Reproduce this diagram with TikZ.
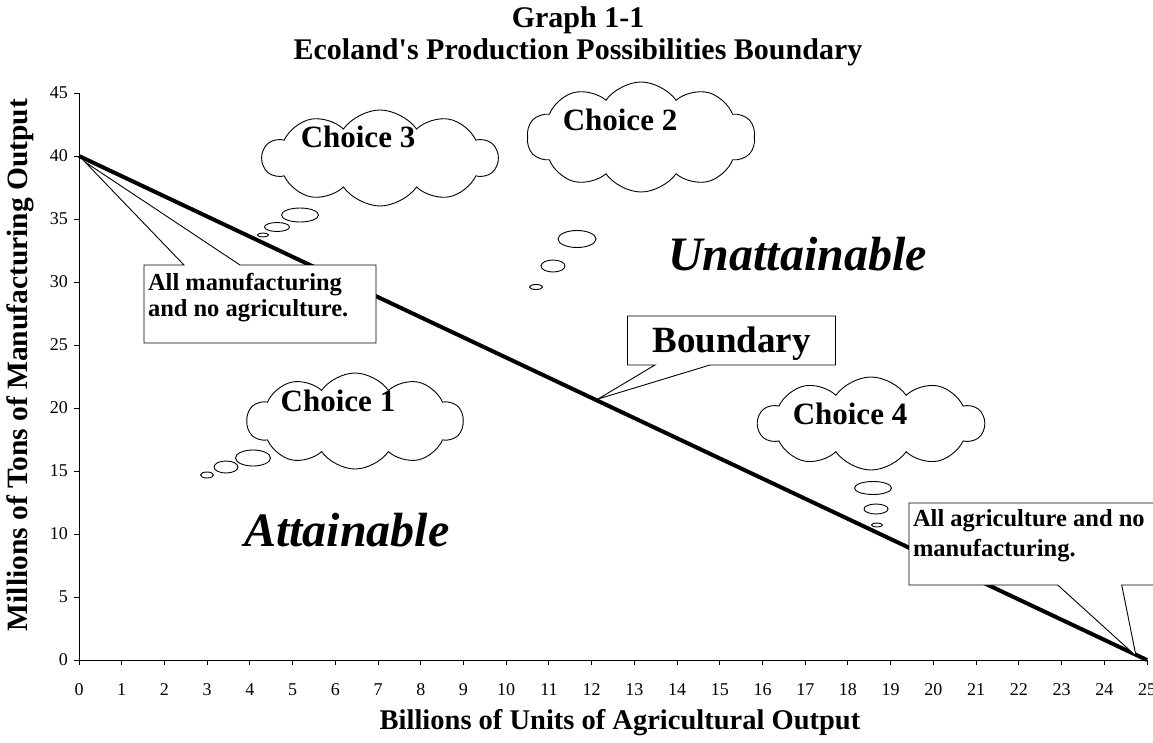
\documentclass[tikz,border=0pt]{standalone}
\usepackage{fontspec}
\setmainfont{Liberation Serif}[Ligatures=TeXOff]
\usetikzlibrary{shapes.symbols,shapes.callouts,shapes.geometric}
\begin{document}
\begin{tikzpicture}[x=1pt,y=-1pt,
  axisline/.style={line width=1pt},
  tickmark/.style={line width=1pt},
  ticklabel/.style={font=\fontsize{18}{20}\selectfont, inner sep=0pt},
  axlabel/.style={font=\fontsize{28.5}{30}\selectfont\bfseries, inner sep=0pt},
  titlestyle/.style={font=\fontsize{30}{34}\selectfont\bfseries, inner sep=0pt, anchor=base},
  bigword/.style={font=\fontsize{48}{50}\selectfont\bfseries\itshape, inner sep=0pt, anchor=base west},
  thought/.style={cloud, cloud puffs=10, cloud puff arc=110, draw, line width=0.9pt, fill=white, inner sep=0pt},
  bubble/.style={ellipse, draw, line width=0.9pt, fill=white, inner sep=0pt},
  choicetext/.style={font=\fontsize{31}{34}\selectfont\bfseries, inner sep=0pt},
  callbox/.style={rectangle callout, draw, line width=0.9pt, fill=white, inner xsep=4pt, inner ysep=0pt},
]
\useasboundingbox (0,0) rectangle (1153,742);
\clip (0,0) rectangle (1153,742);
\fill[white] (0,0) rectangle (1153,742);

% titles
\node[titlestyle] (title1) at (578,27) {Graph 1-1};
\node[titlestyle] (title2) at (578,59) {Ecoland's Production Possibilities Boundary};

% axes
\coordinate (O) at (79,660);
\coordinate (Ytop) at (79,93);
\coordinate (Xend) at (1147,660);
\draw[axisline] (Ytop) -- (O) -- (Xend);
\foreach \v in {0,5,...,45} {
  \pgfmathsetmacro\yy{660-\v*12.6}
  \draw[tickmark] (74,\yy) -- (79,\yy);
  \node[ticklabel, anchor=east] (yl\v) at (68,\yy) {\v};
}
\foreach \i in {0,...,25} {
  \pgfmathsetmacro\xx{79+\i*42.72}
  \draw[tickmark] (\xx,660) -- (\xx,665);
  \node[ticklabel, anchor=base] (xl\i) at (\xx,695) {\i};
}
\node[axlabel, anchor=base] (xlabel) at (620,729) {Billions of Units of Agricultural Output};
\node[axlabel, rotate=90, font=\fontsize{29.5}{31}\selectfont\bfseries] (ylabel) at (20,365) {Millions of Tons of Manufacturing Output};

% boundary line
\coordinate (A) at (79,156);
\coordinate (B) at (1147,660);
\draw[line width=4pt] (A) -- (B);

% region words
\node[bigword] (unatt) at (668,270) {Unattainable};
\node[bigword] (att) at (244,546) {Attainable};

% thought clouds
\node[thought, minimum width=235pt, minimum height=96pt] (c3) at (380,158) {};
\node[bubble, minimum width=37pt, minimum height=14pt] (c3a) at (300,215) {};
\node[bubble, minimum width=25pt, minimum height=9pt] (c3b) at (277,227) {};
\node[bubble, minimum width=11pt, minimum height=4pt] (c3c) at (263,235) {};
\node[choicetext] (t3) at (358,137) {Choice 3};

\node[thought, minimum width=228pt, minimum height=110pt] (c2) at (641,137) {};
\node[bubble, minimum width=38pt, minimum height=17pt] (c2a) at (577,239) {};
\node[bubble, minimum width=24pt, minimum height=12pt] (c2b) at (553,266) {};
\node[bubble, minimum width=13pt, minimum height=5pt] (c2c) at (536,287) {};
\node[choicetext] (t2) at (620,120) {Choice 2};

\node[thought, minimum width=216pt, minimum height=96pt] (c1) at (355,421) {};
\node[bubble, minimum width=35pt, minimum height=16pt] (c1a) at (253,458) {};
\node[bubble, minimum width=24pt, minimum height=12pt] (c1b) at (226,467) {};
\node[bubble, minimum width=13pt, minimum height=6pt] (c1c) at (207,475) {};
\node[choicetext] (t1) at (338,401) {Choice 1};

\node[thought, minimum width=226pt, minimum height=93pt] (c4) at (871,423.5) {};
\node[bubble, minimum width=37pt, minimum height=13pt] (c4a) at (873,488) {};
\node[bubble, minimum width=24pt, minimum height=10pt] (c4b) at (876,509) {};
\node[bubble, minimum width=11pt, minimum height=4pt] (c4c) at (877,525) {};
\node[choicetext] (t4) at (850,414) {Choice 4};

% callout boxes
\node[callbox, callout absolute pointer={(85,162)}, callout pointer width=56pt] (mfg) at (260,304)
  {\parbox[t][78pt][t]{224pt}{\fontsize{24.5}{26}\selectfont\bfseries\rule{0pt}{25pt}All manufacturing\\and no agriculture.}};
\node[callbox, callout absolute pointer={(1136,656)}, callout pointer width=64pt] (agr) at (1063,544)
  {\parbox[t][82pt][t]{300pt}{\fontsize{24.5}{30}\selectfont\bfseries\rule{0pt}{23pt}All agriculture and no\\manufacturing.}};
\node[callbox, inner sep=0pt, minimum width=208pt, minimum height=49pt, text height=25.5pt, text depth=2pt,
  callout absolute pointer={(598,399)}, callout pointer width=55pt,
  font=\fontsize{37}{40}\selectfont\bfseries] (bnd) at (731.5,340.5) {Boundary};
\end{tikzpicture}
\end{document}
